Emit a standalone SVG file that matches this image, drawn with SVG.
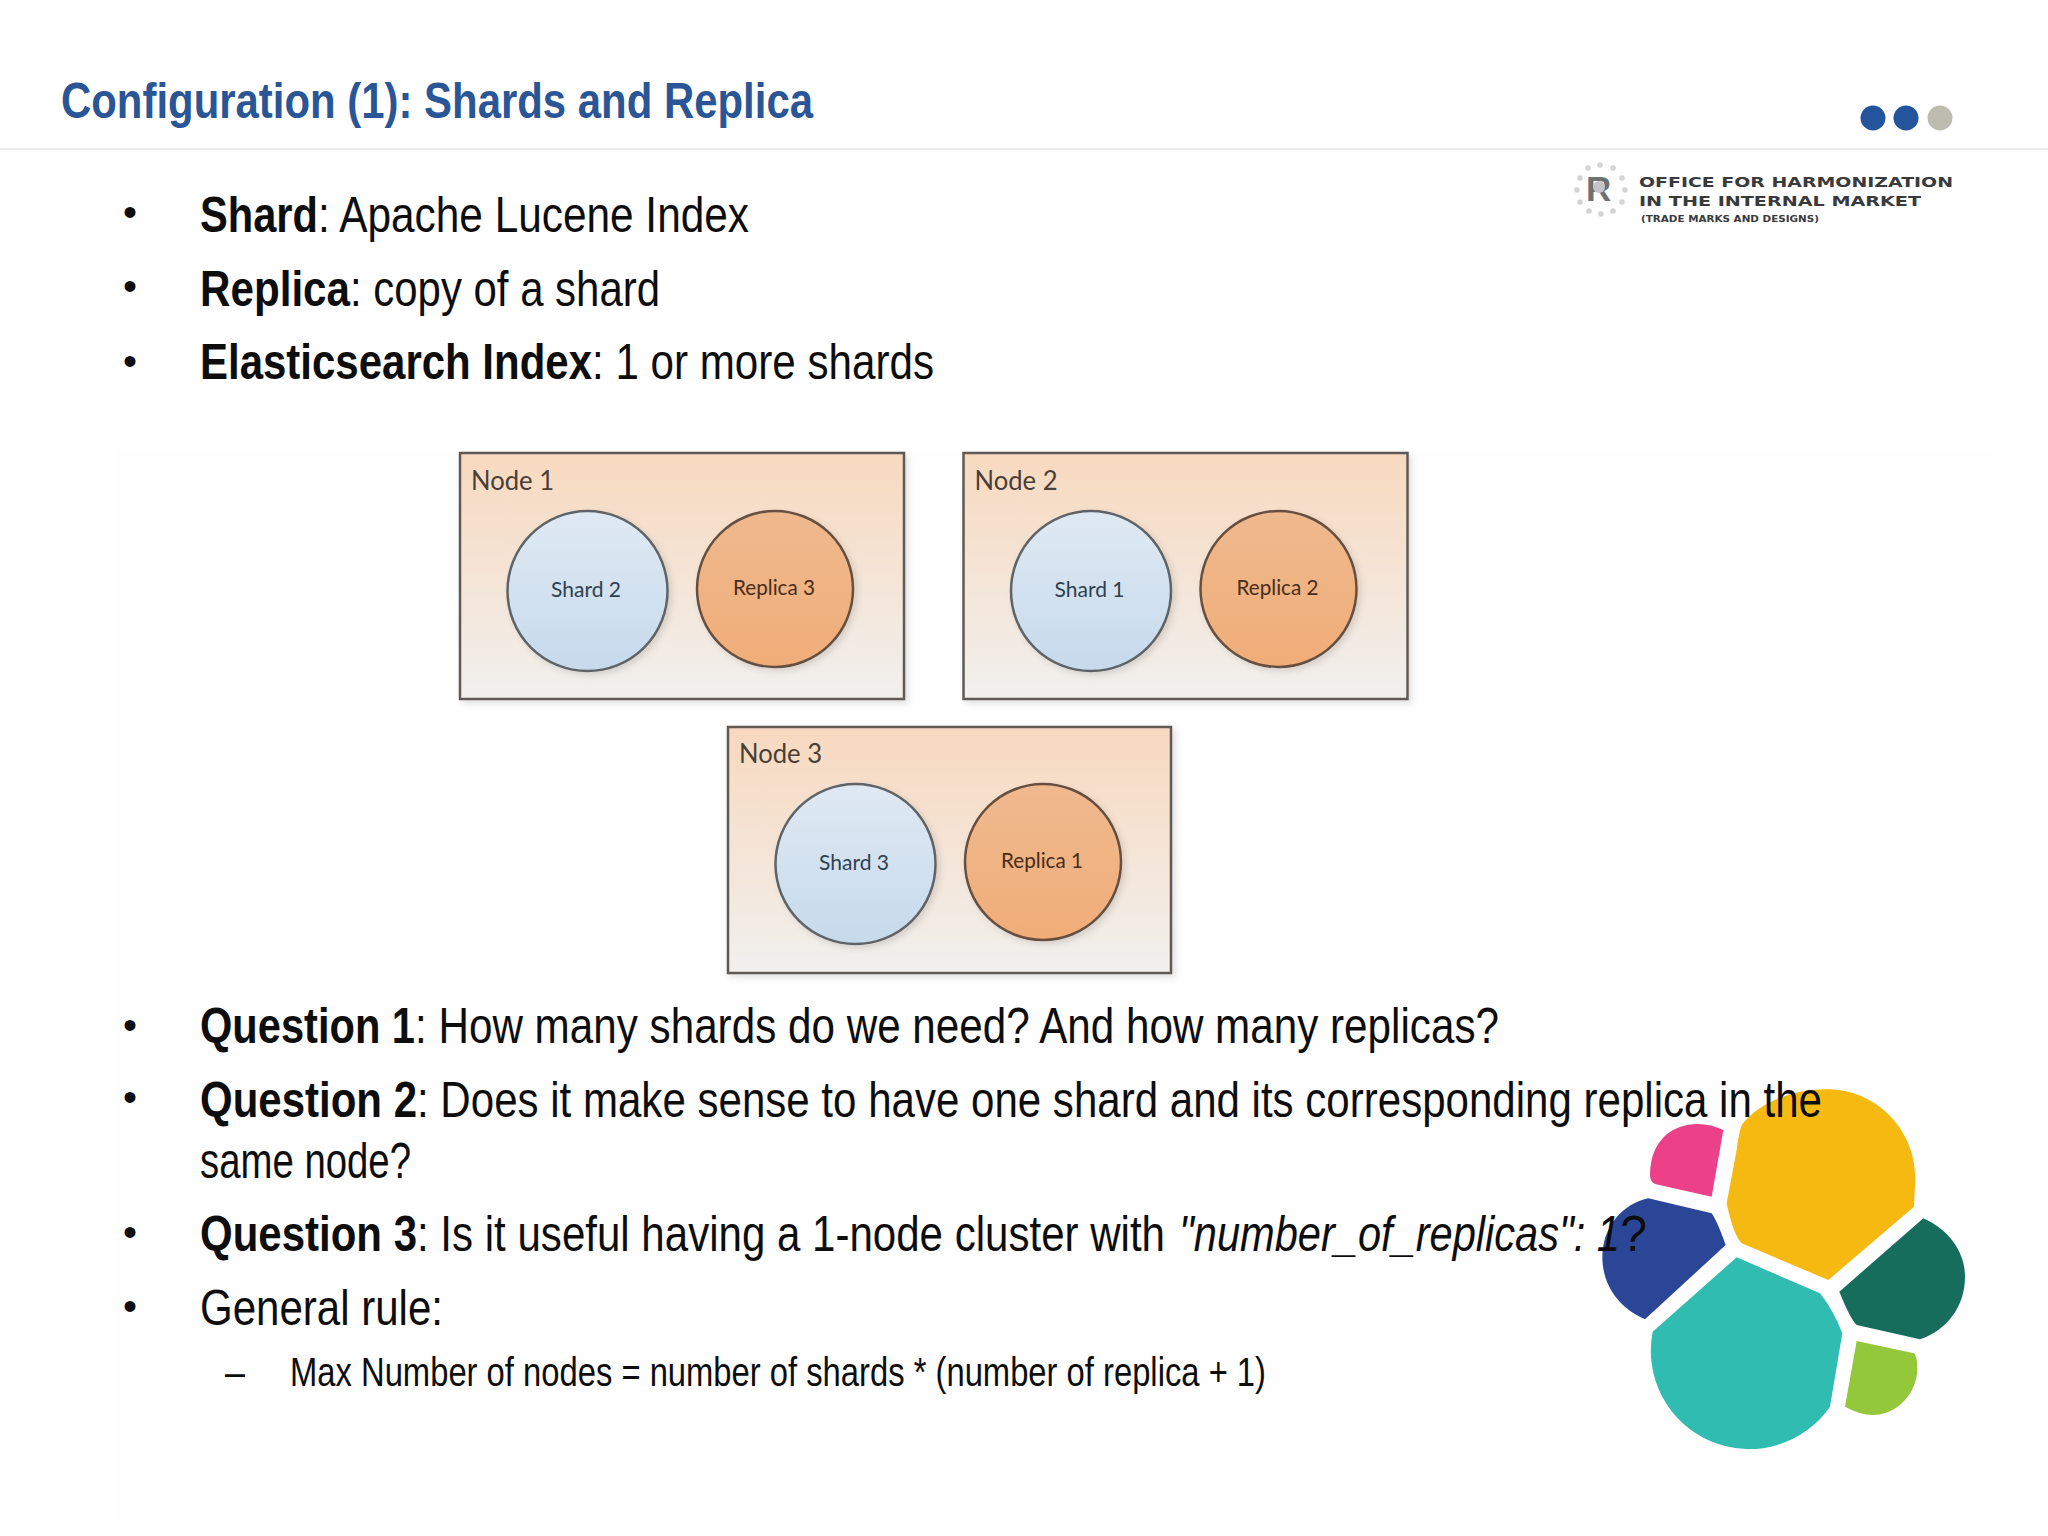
<svg xmlns="http://www.w3.org/2000/svg" width="2048" height="1536" viewBox="0 0 2048 1536">
<style>
text{font-family:"Liberation Sans",Arial,sans-serif}
.b{font-size:50px;fill:#0d0d0d}
.bb{font-size:50px;fill:#0d0d0d;font-weight:700}
.bi{font-size:50px;fill:#0d0d0d;font-style:italic}
.bu{font-size:40px;fill:#0d0d0d}
.s{font-size:41px;fill:#0d0d0d}
.t{font-size:50px;fill:#2a5596;font-weight:700}
.nl{font-family:Lato,"Open Sans",sans-serif;font-size:26px;fill:#4a3e36}
.cl{font-family:Lato,"Open Sans",sans-serif;font-size:22px}
.box{fill:url(#nodeG);stroke:#5f5a56;stroke-width:2.5;filter:url(#sh)}
.sc{fill:url(#shardG);stroke:#5f6468;stroke-width:2.5;filter:url(#sh)}
.rc{fill:url(#repG);stroke:#66503f;stroke-width:2.5;filter:url(#sh)}
.o{font-weight:700;fill:#3a3a3c;font-family:"DejaVu Sans",sans-serif}
.st{fill:#d4d4d6}
</style>
<defs>
<linearGradient id="nodeG" x1="0" y1="0" x2="0" y2="1"><stop offset="0" stop-color="#f8d9bf"/><stop offset="1" stop-color="#f1f0ee"/></linearGradient>
<linearGradient id="shardG" x1="0" y1="0" x2="0" y2="1"><stop offset="0" stop-color="#dfe9f3"/><stop offset="1" stop-color="#c6daec"/></linearGradient>
<linearGradient id="repG" x1="0" y1="0" x2="0" y2="1"><stop offset="0" stop-color="#efb98e"/><stop offset="1" stop-color="#f0ad78"/></linearGradient>
<filter id="sh" x="-5%" y="-5%" width="112%" height="112%"><feDropShadow dx="3" dy="3" stdDeviation="3" flood-color="#000" flood-opacity="0.12"/></filter>
</defs>
<rect width="2048" height="1536" fill="#ffffff"/>
<rect x="115" y="450" width="1880" height="1070" fill="#fefefe"/>
<rect x="0" y="148" width="2048" height="2" fill="#ebebed"/>

<text class="t" x="61" y="118" textLength="752" lengthAdjust="spacingAndGlyphs">Configuration (1): Shards and Replica</text>
<circle cx="1873" cy="118" r="12.5" fill="#24549c"/>
<circle cx="1906" cy="118" r="12.5" fill="#24549c"/>
<circle cx="1940" cy="118" r="12.5" fill="#bcbdb0"/>

<g id="oami-logo">
<circle class="st" cx="1600" cy="165" r="2.8"/><circle class="st" cx="1613" cy="168" r="2.8"/><circle class="st" cx="1622" cy="178" r="2.8"/><circle class="st" cx="1625" cy="190" r="2.8"/><circle class="st" cx="1622" cy="202" r="2.8"/><circle class="st" cx="1613" cy="211" r="2.8"/><circle class="st" cx="1601" cy="214" r="2.8"/><circle class="st" cx="1589" cy="211" r="2.8"/><circle class="st" cx="1580" cy="202" r="2.8"/><circle class="st" cx="1577" cy="190" r="2.8"/><circle class="st" cx="1580" cy="178" r="2.8"/><circle class="st" cx="1588" cy="168" r="2.8"/>
<text x="1586" y="201" font-size="35" font-weight="700" fill="#6f7072">R</text>
<circle cx="1599" cy="187" r="6" fill="#c4c4c6"/>
<text class="o" x="1639" y="187" font-size="14" textLength="314" lengthAdjust="spacingAndGlyphs">OFFICE FOR HARMONIZATION</text>
<text class="o" x="1639" y="206" font-size="14" textLength="282" lengthAdjust="spacingAndGlyphs">IN THE INTERNAL MARKET</text>
<text class="o" x="1641" y="222" font-size="8" textLength="178" lengthAdjust="spacingAndGlyphs">(TRADE MARKS AND DESIGNS)</text>
</g>

<g id="elastic-logo" transform="translate(1560 1060) scale(.33333)">
<path fill="#f6b911" d="M500 430 L530 270 Q535 225 545 195 C600 125 700 88 800 88 C950 88 1066 210 1066 355 L1062 440 L805 660 L545 550 Q520 525 500 430Z"/>
<path fill="#ec4088" d="M490 210 C400 165 270 200 270 345 Q270 365 285 372 L455 410Z"/>
<path fill="#2b4697" d="M265 415 L455 460 Q470 480 497 555 L255 778 C170 740 127 670 127 590 C127 500 190 430 265 415Z"/>
<path fill="#30bcb0" d="M530 592 L780 700 Q820 750 847 820 L810 1040 A295 295 0 0 1 278 815Z"/>
<path fill="#176d5c" d="M1090 475 C1170 510 1215 580 1215 650 C1215 740 1160 810 1080 838 L890 795 Q870 775 838 695Z"/>
<path fill="#93c83b" d="M890 843 L1062 880 Q1072 890 1072 925 C1072 1000 1010 1065 940 1065 Q900 1065 855 1040Z"/>
</g>

<g id="top-bullets">
<text class="bu" x="123" y="226">•</text>
<text class="bb" x="200" y="232" textLength="118" lengthAdjust="spacingAndGlyphs">Shard</text>
<text class="b" x="318" y="232" textLength="431" lengthAdjust="spacingAndGlyphs">: Apache Lucene Index</text>
<text class="bu" x="123" y="300">•</text>
<text class="bb" x="200" y="306" textLength="150" lengthAdjust="spacingAndGlyphs">Replica</text>
<text class="b" x="350" y="306" textLength="310" lengthAdjust="spacingAndGlyphs">: copy of a shard</text>
<text class="bu" x="123" y="375">•</text>
<text class="bb" x="200" y="379" textLength="392" lengthAdjust="spacingAndGlyphs">Elasticsearch Index</text>
<text class="b" x="592" y="379" textLength="342" lengthAdjust="spacingAndGlyphs">: 1 or more shards</text>
</g>

<g id="node1">
<rect class="box" x="460" y="453" width="444" height="246"/>
<text class="nl" x="471" y="490" textLength="83" lengthAdjust="spacingAndGlyphs">Node 1</text>
<g id="shard2"><circle class="sc" cx="587.500" cy="591" r="80"/><text class="cl" x="551" y="597" fill="#2f3f50" textLength="70" lengthAdjust="spacingAndGlyphs">Shard 2</text></g>
<g id="replica3"><circle class="rc" cx="775" cy="589" r="78"/><text class="cl" x="733" y="595" fill="#4a2c18" textLength="82" lengthAdjust="spacingAndGlyphs">Replica 3</text></g>
</g>
<g id="node2">
<rect class="box" x="963.500" y="453" width="444" height="246"/>
<text class="nl" x="974.500" y="490" textLength="83" lengthAdjust="spacingAndGlyphs">Node 2</text>
<g id="shard1"><circle class="sc" cx="1091" cy="591" r="80"/><text class="cl" x="1054.500" y="597" fill="#2f3f50" textLength="70" lengthAdjust="spacingAndGlyphs">Shard 1</text></g>
<g id="replica2"><circle class="rc" cx="1278.500" cy="589" r="78"/><text class="cl" x="1236.500" y="595" fill="#4a2c18" textLength="82" lengthAdjust="spacingAndGlyphs">Replica 2</text></g>
</g>
<g id="node3">
<rect class="box" x="728" y="727" width="443" height="246"/>
<text class="nl" x="739" y="763" textLength="83" lengthAdjust="spacingAndGlyphs">Node 3</text>
<g id="shard3"><circle class="sc" cx="855.500" cy="864" r="80"/><text class="cl" x="819" y="870" fill="#2f3f50" textLength="70" lengthAdjust="spacingAndGlyphs">Shard 3</text></g>
<g id="replica1"><circle class="rc" cx="1043" cy="862" r="78"/><text class="cl" x="1001" y="868" fill="#4a2c18" textLength="82" lengthAdjust="spacingAndGlyphs">Replica 1</text></g>
</g>

<g id="bottom-bullets">
<text class="bu" x="123" y="1039">•</text>
<text class="bb" x="200" y="1043" textLength="215" lengthAdjust="spacingAndGlyphs">Question 1</text>
<text class="b" x="415" y="1043" textLength="1084" lengthAdjust="spacingAndGlyphs">: How many shards do we need? And how many replicas?</text>
<text class="bu" x="123" y="1111">•</text>
<text class="bb" x="200" y="1117" textLength="217" lengthAdjust="spacingAndGlyphs">Question 2</text>
<text class="b" x="417" y="1117" textLength="1405" lengthAdjust="spacingAndGlyphs">: Does it make sense to have one shard and its corresponding replica in the</text>
<text class="b" x="200" y="1178" textLength="211" lengthAdjust="spacingAndGlyphs">same node?</text>
<text class="bu" x="123" y="1246">•</text>
<text class="bb" x="200" y="1251" textLength="217" lengthAdjust="spacingAndGlyphs">Question 3</text>
<text class="b" x="417" y="1251" textLength="748" lengthAdjust="spacingAndGlyphs">: Is it useful having a 1-node cluster with</text>
<text class="bi" x="1179" y="1251" textLength="441" lengthAdjust="spacingAndGlyphs">"number_of_replicas": 1</text>
<text class="b" x="1620" y="1251" textLength="27" lengthAdjust="spacingAndGlyphs">?</text>
<text class="bu" x="123" y="1320">•</text>
<text class="b" x="200" y="1325" textLength="243" lengthAdjust="spacingAndGlyphs">General rule:</text>
<text class="s" x="225" y="1386" textLength="20" lengthAdjust="spacingAndGlyphs">–</text>
<text class="s" x="290" y="1386" textLength="976" lengthAdjust="spacingAndGlyphs">Max Number of nodes = number of shards * (number of replica + 1)</text>
</g>
</svg>
